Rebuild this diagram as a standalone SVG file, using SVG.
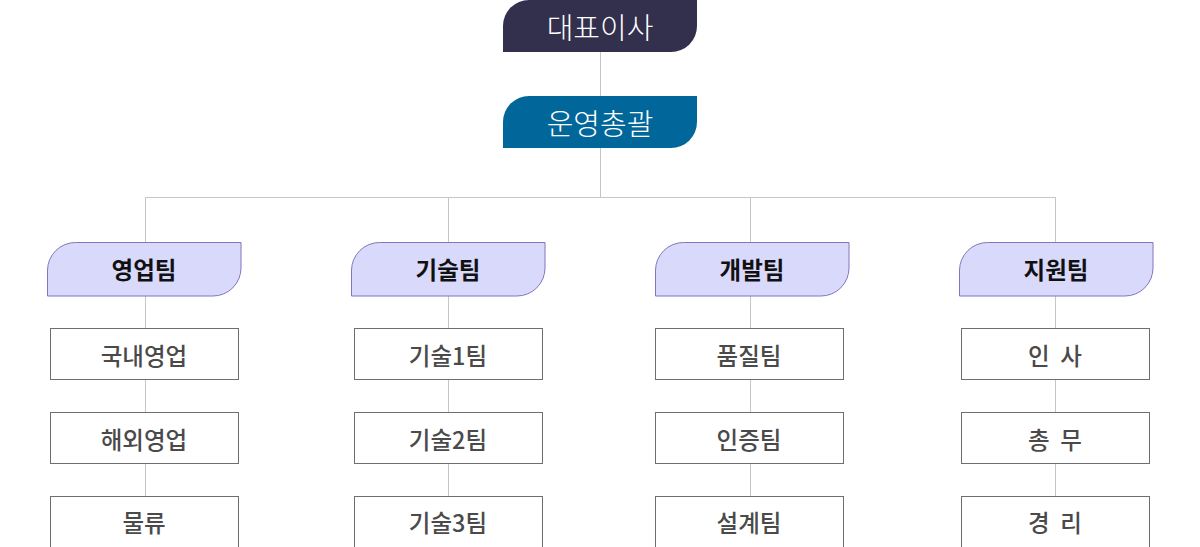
<svg xmlns="http://www.w3.org/2000/svg" width="1200" height="547" viewBox="0 0 1200 547">
<style>
text{font-family:"Noto Sans CJK KR","Noto Sans",sans-serif;text-anchor:middle;dominant-baseline:central}
.top{font-size:29px;font-weight:300;fill:#ffffff}
.team{fill:#d9d9fc;stroke:#7f76bf;stroke-width:1}
.teamt{font-size:23.5px;font-weight:bold;fill:#111111}
.sub{fill:#ffffff;stroke:#6e6e6e;stroke-width:1}
.subt{font-size:23.5px;font-weight:500;fill:#4a4a4a}
.ln{stroke:#c6c6c6;stroke-width:1;fill:none}
</style>
<g id="connectors">
<path class="ln" d="M600.5 52V96M600.5 148V197.5M145 197.5H1055.5M145.5 197V242M448.5 197V242M750.5 197V242M1055.5 197V242"/>
<path class="ln" d="M145.5 296V328M145.5 380V412M145.5 463V496M448.5 296V328M448.5 380V412M448.5 463V496M750.5 296V328M750.5 380V412M750.5 463V496M1055.5 296V328M1055.5 380V412M1055.5 463V496"/>
</g>
<g id="ceo"><path d="M503 52V26A26 26 0 0 1 529 0H697V26A26 26 0 0 1 671 52Z" fill="#33304e"/><text class="top" x="600" y="26">대표이사</text></g>
<g id="ops"><path d="M503 148V122A26 26 0 0 1 529 96H697V122A26 26 0 0 1 671 148Z" fill="#01679b"/><text class="top" x="600" y="122">운영총괄</text></g>
<g id="team-sales"><path class="team" d="M47.5 296V270A28 28 0 0 1 75.5 242.5H241V268A28 28 0 0 1 213 296Z"/><text class="teamt" x="144" y="269">영업팀</text></g>
<g id="team-tech"><path class="team" d="M351.5 296V270A28 28 0 0 1 379.5 242.5H545V268A28 28 0 0 1 517 296Z"/><text class="teamt" x="448" y="269">기술팀</text></g>
<g id="team-dev"><path class="team" d="M655.5 296V270A28 28 0 0 1 683.5 242.5H849V268A28 28 0 0 1 821 296Z"/><text class="teamt" x="752" y="269">개발팀</text></g>
<g id="team-support"><path class="team" d="M959.5 296V270A28 28 0 0 1 987.5 242.5H1153V268A28 28 0 0 1 1125 296Z"/><text class="teamt" x="1056" y="269">지원팀</text></g>
<g id="s1"><rect class="sub" x="50.5" y="328.5" width="188" height="51"/><text class="subt" x="144" y="354.5">국내영업</text></g>
<g id="s2"><rect class="sub" x="50.5" y="412.5" width="188" height="51"/><text class="subt" x="144" y="438.5">해외영업</text></g>
<g id="s3"><rect class="sub" x="50.5" y="496.5" width="188" height="51"/><text class="subt" x="144" y="521.5">물류</text></g>
<g id="t1"><rect class="sub" x="354.5" y="328.5" width="188" height="51"/><text class="subt" x="448" y="354.5">기술1팀</text></g>
<g id="t2"><rect class="sub" x="354.5" y="412.5" width="188" height="51"/><text class="subt" x="448" y="438.5">기술2팀</text></g>
<g id="t3"><rect class="sub" x="354.5" y="496.5" width="188" height="51"/><text class="subt" x="448" y="521.5">기술3팀</text></g>
<g id="d1"><rect class="sub" x="655.5" y="328.5" width="188" height="51"/><text class="subt" x="749" y="354.5">품질팀</text></g>
<g id="d2"><rect class="sub" x="655.5" y="412.5" width="188" height="51"/><text class="subt" x="749" y="438.5">인증팀</text></g>
<g id="d3"><rect class="sub" x="655.5" y="496.5" width="188" height="51"/><text class="subt" x="749" y="521.5">설계팀</text></g>
<g id="p1"><rect class="sub" x="961.5" y="328.5" width="188" height="51"/><text class="subt" x="1055" y="354.5" xml:space="preserve">인  사</text></g>
<g id="p2"><rect class="sub" x="961.5" y="412.5" width="188" height="51"/><text class="subt" x="1055" y="438.5" xml:space="preserve">총  무</text></g>
<g id="p3"><rect class="sub" x="961.5" y="496.5" width="188" height="51"/><text class="subt" x="1055" y="521.5" xml:space="preserve">경  리</text></g>
</svg>
